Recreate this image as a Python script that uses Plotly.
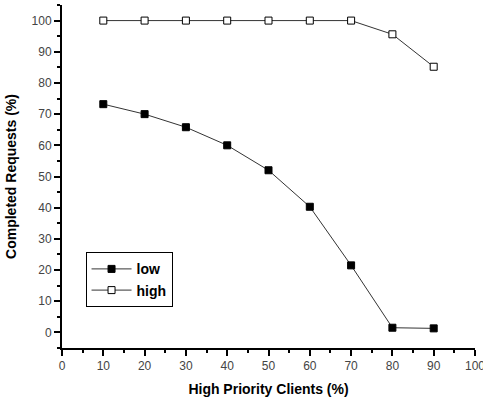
import plotly.graph_objects as go

x_vals = [10, 20, 30, 40, 50, 60, 70, 80, 90]
low_vals = [73.2, 70.0, 65.8, 60.0, 52.0, 40.3, 21.5, 1.5, 1.3]
high_vals = [100, 100, 100, 100, 100, 100, 100, 95.6, 85.2]
x_ticks = [0, 10, 20, 30, 40, 50, 60, 70, 80, 90, 100]
y_ticks = [0, 10, 20, 30, 40, 50, 60, 70, 80, 90, 100]

fig = go.Figure()
fig.add_trace(go.Scatter(
    x=x_vals, y=low_vals, name="low", mode="lines+markers",
    line=dict(color="#333333", width=1),
    marker=dict(symbol="square", size=7, color="black", line=dict(color="black", width=1)),
))
fig.add_trace(go.Scatter(
    x=x_vals, y=high_vals, name="high", mode="lines+markers",
    line=dict(color="#333333", width=1),
    marker=dict(symbol="square", size=7, color="white", line=dict(color="black", width=1)),
))

axis_common = dict(
    showline=True, linecolor="black", linewidth=2, showgrid=False, zeroline=False,
    ticks="outside", ticklen=6, tickwidth=1.5, tickcolor="black",
    tickfont=dict(family="Liberation Sans, Arial", size=12, color="#444444"),
    ticklabeloverflow="allow", automargin=False,
    minor=dict(ticks="outside", ticklen=3, tickwidth=1.5, tickcolor="black", dtick=5, showgrid=False),
)

fig.update_layout(
    width=483, height=402,
    margin=dict(l=62, r=8, t=5, b=54, autoexpand=False),
    paper_bgcolor="white", plot_bgcolor="white",
    font=dict(family="Liberation Sans, Arial", color="black"),
    showlegend=True,
    legend=dict(
        x=0.057, y=0.279, xanchor="left", yanchor="top",
        bordercolor="black", borderwidth=1, bgcolor="white",
        font=dict(family="Liberation Sans, Arial", size=14, color="black", weight="bold"),
        tracegroupgap=0, itemwidth=40,
    ),
    xaxis=dict(
        range=[0, 100], tickvals=x_ticks,
        title=dict(text="High Priority Clients (%)", font=dict(size=14, weight="bold"), standoff=12),
        **axis_common,
    ),
    yaxis=dict(
        range=[-5, 105], tickvals=y_ticks,
        title=dict(text="Completed Requests (%)", font=dict(size=14, weight="bold"), standoff=12),
        **axis_common,
    ),
)

fig.write_html("out.html")
